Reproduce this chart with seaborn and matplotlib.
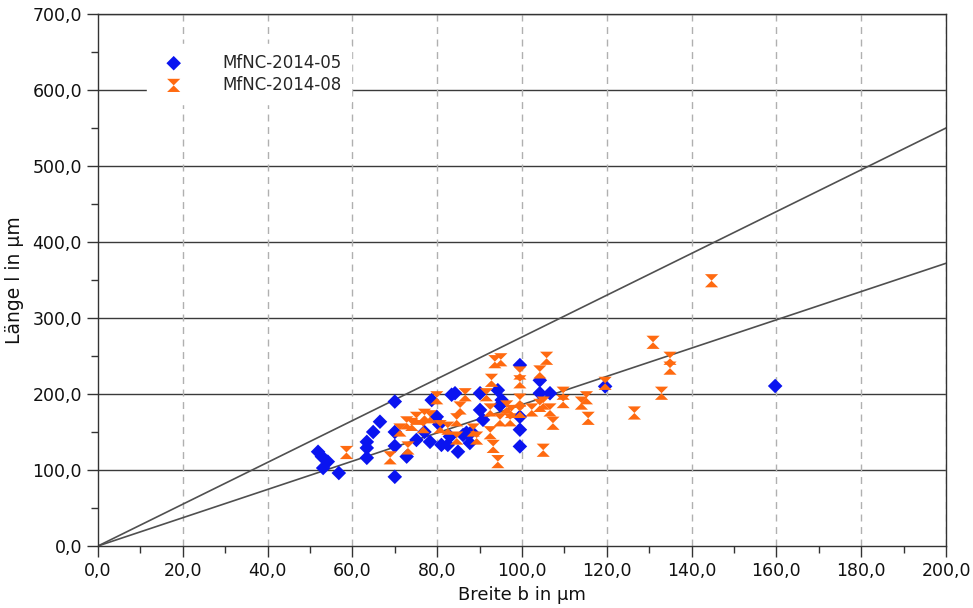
import numpy as np
import pandas as pd
import matplotlib
matplotlib.use("Agg")
import matplotlib.pyplot as plt
from matplotlib.path import Path
from matplotlib.ticker import MultipleLocator, FuncFormatter
import seaborn as sns

# data
b_05 = [51.9, 52.8, 53.1, 54.2, 56.8, 63.4, 63.4, 63.4, 64.9, 66.5, 70.0, 70.0, 70.0, 70.0,
        72.8, 75.1, 77.0, 78.3, 78.7, 79.9, 80.5, 81.0, 82.5, 83.0, 83.4, 84.2, 84.9, 86.1,
        86.9, 87.7, 88.1, 90.1, 90.1, 90.8, 94.3, 95.2, 94.8, 99.5, 99.5, 99.5, 99.5, 104.2,
        104.2, 106.6, 119.6, 159.7]
l_05 = [124.0, 117.6, 102.6, 111.0, 96.0, 116.0, 129.0, 137.0, 150.0, 163.5, 190.0, 150.0, 131.6, 91.0,
        117.6, 139.5, 150.0, 137.0, 192.0, 170.0, 160.0, 133.0, 133.0, 144.0, 199.0, 201.0, 124.0, 146.0,
        149.0, 135.5, 150.0, 201.0, 179.0, 166.0, 205.0, 192.0, 185.0, 238.0, 170.0, 153.0, 131.0, 218.0,
        201.0, 201.0, 210.0, 210.5]

b_08 = [58.6, 68.9, 73.1, 71.2, 72.8, 74.0, 75.1, 76.7, 77.0, 78.3, 79.9, 80.7, 82.5, 84.6, 84.6,
        85.4, 86.6, 88.5, 89.3, 91.6, 92.5, 92.5, 92.8, 93.2, 93.6, 94.3, 94.8, 95.0, 96.4, 97.2,
        97.5, 99.5, 99.5, 99.5, 99.5, 102.3, 104.2, 104.2, 105.0, 105.0, 105.8, 106.6, 107.3, 109.7,
        109.7, 114.0, 115.2, 115.6, 119.6, 126.5, 130.9, 132.9, 134.9, 134.9, 144.7]
l_08 = [123.0, 116.0, 129.0, 152.6, 162.0, 160.0, 168.0, 157.0, 172.0, 170.0, 195.0, 157.0, 155.0, 166.0, 142.0,
        181.6, 199.0, 152.6, 142.0, 199.0, 179.0, 149.0, 218.0, 131.0, 242.5, 111.0, 166.0, 245.0, 183.0, 166.0,
        177.0, 227.6, 216.0, 192.0, 177.0, 179.0, 185.0, 229.0, 188.0, 126.0, 247.0, 179.0, 161.5, 201.0,
        190.0, 188.0, 195.0, 168.0, 214.0, 175.0, 268.0, 201.0, 247.0, 234.0, 349.0]

series_names = ["MfNC-2014-05", "MfNC-2014-08"]
line_slopes = [2.75, 1.86]

df = pd.concat([
    pd.DataFrame({"b": b_05, "l": l_05, "probe": series_names[0]}),
    pd.DataFrame({"b": b_08, "l": l_08, "probe": series_names[1]}),
])

sns.set_style("white")
plt.rcParams["font.family"] = ["DejaVu Sans"]

fig = plt.figure(figsize=(9.73, 6.08), dpi=100)
ax = fig.add_axes([0.1007, 0.102, 0.8716, 0.875])

# hourglass marker
hourglass = Path([(-1, 1), (1, 1), (0, 0), (1, -1), (-1, -1), (0, 0), (-1, 1)],
                 [Path.MOVETO, Path.LINETO, Path.LINETO, Path.LINETO, Path.LINETO, Path.LINETO, Path.CLOSEPOLY])

# grid
for yv in range(100, 800, 100):
    ax.axhline(yv, color="#3a3a3a", lw=1.0, zorder=1)
for xv in range(20, 201, 20):
    ax.axvline(xv, color="#b0b0b0", lw=1.0, ls=(0, (5, 4)), zorder=1)

# reference lines through origin
xx = np.array([0, 200])
for s in line_slopes:
    ax.plot(xx, s * xx, color="#505050", lw=1.2, zorder=2)

sns.scatterplot(data=df[df.probe == series_names[0]], x="b", y="l", marker="D", color="#0a14f0",
                s=55, edgecolor="none", ax=ax, label=series_names[0], zorder=3)
sns.scatterplot(data=df[df.probe == series_names[1]], x="b", y="l", marker=hourglass, color="#ff6a10",
                s=90, edgecolor="none", ax=ax, label=series_names[1], zorder=4)

ax.set_xlim(0, 200)
ax.set_ylim(0, 700)
ax.xaxis.set_major_locator(MultipleLocator(20))
ax.xaxis.set_minor_locator(MultipleLocator(10))
ax.yaxis.set_major_locator(MultipleLocator(100))
ax.yaxis.set_minor_locator(MultipleLocator(50))
fmt = FuncFormatter(lambda v, p: f"{v:.1f}".replace(".", ","))
ax.xaxis.set_major_formatter(fmt)
ax.yaxis.set_major_formatter(fmt)
ax.tick_params(which="major", direction="out", length=8, width=1, color="#333333",
               labelsize=12.5, labelcolor="#111111", left=True, bottom=True)
ax.tick_params(which="minor", direction="out", length=5, width=1, color="#333333", left=True, bottom=True)
for sp in ax.spines.values():
    sp.set_color("#333333")
    sp.set_linewidth(1.0)

ax.set_xlabel("Breite b in µm", fontsize=13, color="#111111", labelpad=4)
ax.set_ylabel("Länge l in µm", fontsize=13.5, color="#111111", labelpad=6)

leg = ax.legend(loc="upper left", bbox_to_anchor=(0.048, 0.96), fontsize=12, frameon=True,
                facecolor="white", edgecolor="white", framealpha=1, borderpad=0.6,
                handletextpad=1.9, labelspacing=0.25, markerscale=1.0)
leg.set_zorder(5)

fig.savefig("out.png", dpi=100)
